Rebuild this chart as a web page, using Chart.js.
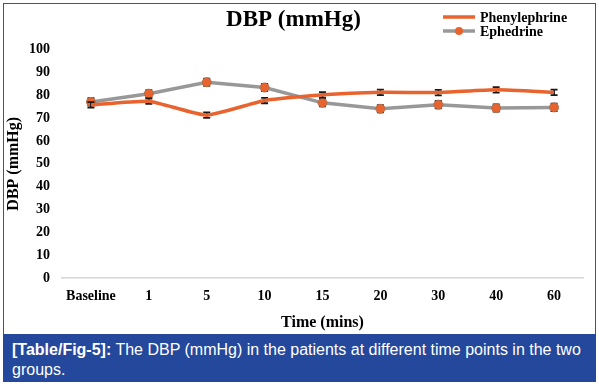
<!DOCTYPE html>
<html>
<head>
<meta charset="utf-8">
<script src="https://cdn.jsdelivr.net/npm/chart.js@4/dist/chart.umd.min.js"></script>
<style>
  body { margin: 0; background: #fff; }
  #frame {
    position: absolute; left: 3px; top: 3px; width: 593px; height: 331px;
    border: 1px solid #3b5586; border-bottom: none; box-sizing: border-box;
  }
  #frame canvas { display: block; }
  #caption {
    position: absolute; left: 3px; top: 334px; width: 593px; height: 48px;
    background: #24489b; color: #fff; box-sizing: border-box;
    font-family: "Liberation Sans", Arial, sans-serif; font-size: 16px;
    line-height: 20px; padding: 6px 9px 0 9px;
  }
</style>
</head>
<body>
<div id="frame"><canvas id="dbpChart" width="591" height="330"></canvas></div>
<div id="caption"><b>[Table/Fig-5]:</b> The DBP (mmHg) in the patients at different time points in the two groups.</div>
<script>
// values
const timeLabels = ["Baseline", "1", "5", "10", "15", "20", "30", "40", "60"];
const phenylephrine = [75.8, 77.4, 71.3, 77.7, 80.2, 81.3, 81.2, 82.4, 81.3];
const ephedrine = [77.1, 80.7, 85.7, 83.4, 76.7, 74.1, 75.9, 74.4, 74.7];
const phenylephrineErr = [1.2, 1.2, 1.2, 1.2, 1.2, 1.2, 1.2, 1.2, 1.2];
const ephedrineErr = [1.6, 1.6, 1.6, 1.6, 1.6, 1.6, 1.6, 1.6, 1.6];
const yTicks = [0, 10, 20, 30, 40, 50, 60, 70, 80, 90, 100];

const ORANGE = "#e8632d";
const GRAY = "#989898";
const SERIF = "'Liberation Serif', 'Times New Roman', serif";

// draws the little black error bars
const drawErrors = (chart, dsIndex, errs) => {
  const ctx = chart.ctx;
  const y = chart.scales.y;
  const meta = chart.getDatasetMeta(dsIndex);
  const values = chart.data.datasets[dsIndex].data;
  ctx.save();
  ctx.strokeStyle = "#1a1a1a";
  ctx.lineWidth = 1.8;
  meta.data.forEach((pt, i) => {
    const top = y.getPixelForValue(values[i] + errs[i]);
    const bot = y.getPixelForValue(values[i] - errs[i]);
    ctx.beginPath();
    ctx.moveTo(pt.x, top); ctx.lineTo(pt.x, bot);
    ctx.moveTo(pt.x - 3.5, top); ctx.lineTo(pt.x + 3.5, top);
    ctx.moveTo(pt.x - 3.5, bot); ctx.lineTo(pt.x + 3.5, bot);
    ctx.stroke();
  });
  ctx.restore();
};

const errorBars = {
  id: "errorBars",
  beforeDatasetsDraw(chart) {
    drawErrors(chart, 1, ephedrineErr);
  },
  afterDatasetDraw(chart, args) {
    if (args.index === 1) drawErrors(chart, 0, phenylephrineErr);
  },
};

// legend sits beside the title in the original, so draw it by hand
const sideLegend = {
  id: "sideLegend",
  afterDraw(chart) {
    const ctx = chart.ctx;
    const x0 = 439, x1 = 471;
    const rows = [
      { text: "Phenylephrine", color: ORANGE, y: 13, marker: false },
      { text: "Ephedrine", color: GRAY, y: 27, marker: true },
    ];
    ctx.save();
    ctx.font = Chart.helpers.toFont({ family: SERIF, size: 14, weight: "bold" }).string;
    ctx.textBaseline = "middle";
    ctx.textAlign = "left";
    rows.forEach((r) => {
      ctx.strokeStyle = r.color;
      ctx.lineWidth = 3.5;
      ctx.beginPath();
      ctx.moveTo(x0, r.y); ctx.lineTo(x1, r.y);
      ctx.stroke();
      if (r.marker) {
        ctx.fillStyle = ORANGE;
        ctx.beginPath();
        ctx.arc((x0 + x1) / 2, r.y, 4, 0, Math.PI * 2);
        ctx.fill();
      }
      ctx.fillStyle = "#000";
      ctx.fillText(r.text, x1 + 5, r.y + 1);
    });
    ctx.restore();
  },
};

new Chart(document.getElementById("dbpChart"), {
  type: "line",
  data: {
    labels: timeLabels,
    datasets: [
      {
        label: "Phenylephrine",
        data: phenylephrine,
        borderColor: ORANGE,
        backgroundColor: ORANGE,
        borderWidth: 3.5,
        pointRadius: 0,
        tension: 0.15,
      },
      {
        label: "Ephedrine",
        data: ephedrine,
        borderColor: GRAY,
        backgroundColor: ORANGE,
        borderWidth: 3.5,
        pointRadius: 4.5,
        pointBorderWidth: 1,
        pointBorderColor: "#b0704f",
        tension: 0,
      },
    ],
  },
  options: {
    responsive: false,
    animation: false,
    layout: { padding: { left: 0, right: 12, top: 0, bottom: 2 } },
    plugins: {
      legend: { display: false },
      tooltip: { enabled: false },
      title: {
        display: true,
        text: "DBP (mmHg)",
        color: "#000",
        font: { family: SERIF, size: 23, weight: "bold" },
        padding: { top: 2, bottom: 16 },
      },
    },
    scales: {
      x: {
        offset: true,
        afterFit: (axis) => {
          axis.height = 54;
        },
        grid: { display: false, drawTicks: false },
        border: { display: true, color: "#d6d6d6", width: 1.5 },
        ticks: {
          color: "#000", padding: 10, maxRotation: 0, autoSkip: false,
          font: { family: SERIF, size: 14, weight: "bold" },
        },
        title: {
          display: true,
          text: "Time (mins)",
          color: "#000",
          padding: { top: 5, bottom: 0 },
          font: { family: SERIF, size: 16, weight: "bold" },
        },
      },
      y: {
        min: 0,
        max: 100,
        afterBuildTicks: (axis) => {
          axis.ticks = yTicks.map((v) => ({ value: v }));
        },
        afterFit: (axis) => {
          axis.width = 58;
        },
        grid: { display: false, drawTicks: false },
        border: { display: false },
        ticks: { color: "#000", padding: 12, font: { family: SERIF, size: 14, weight: "bold" } },
        title: {
          display: true,
          text: "DBP (mmHg)",
          color: "#000",
          padding: { top: 0, bottom: 0 },
          font: { family: SERIF, size: 16, weight: "bold" },
        },
      },
    },
  },
  plugins: [errorBars, sideLegend],
});
</script>
</body>
</html>
